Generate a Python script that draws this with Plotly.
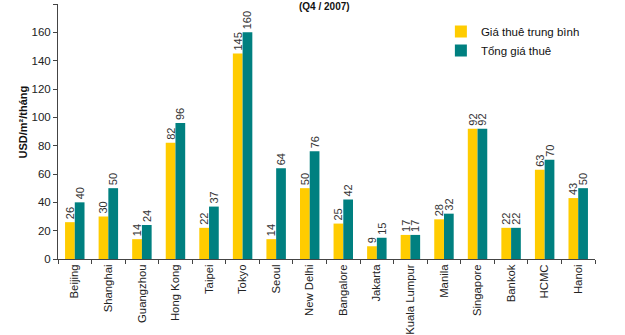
import plotly.graph_objects as go

cities = ["Beijing", "Shanghai", "Guangzhou", "Hong Kong", "Taipei", "Tokyo", "Seoul",
          "New Delhi", "Bangalore", "Jakarta", "Kuala Lumpur", "Manila", "Singapore",
          "Bankok", "HCMC", "Hanoi"]
avg_rent = [26, 30, 14, 82, 22, 145, 14, 50, 25, 9, 17, 28, 92, 22, 63, 43]
total_rent = [40, 50, 24, 96, 37, 160, 64, 76, 42, 15, 17, 32, 92, 22, 70, 50]
y_ticks = [0, 20, 40, 60, 80, 100, 120, 140, 160, 180]

FONT = "Liberation Sans, Arial, sans-serif"

fig = go.Figure()
fig.add_trace(go.Bar(
    x=cities, y=avg_rent, name="Giá thuê trung bình",
    marker=dict(color="#FFCC00", line=dict(width=0)),
    text=avg_rent, textposition="outside", textangle=-90,
    textfont=dict(size=11, color="#333333", family=FONT), cliponaxis=False,
))
fig.add_trace(go.Bar(
    x=cities, y=total_rent, name="Tổng giá thuê",
    marker=dict(color="#008080", line=dict(width=0)),
    text=total_rent, textposition="outside", textangle=-90,
    textfont=dict(size=11, color="#333333", family=FONT), cliponaxis=False,
))

fig.update_layout(
    width=625, height=335,
    margin=dict(l=58, r=30, t=4, b=76, autoexpand=False),
    paper_bgcolor="white", plot_bgcolor="white",
    barmode="group", bargap=0.42, bargroupgap=0,
    uniformtext=dict(minsize=11, mode="show"),
    font=dict(family=FONT, size=11, color="#222222"),
    showlegend=True,
    legend=dict(x=0.713, y=0.949, xanchor="left", yanchor="top",
                bgcolor="rgba(0,0,0,0)", font=dict(size=11.5, color="#111111"),
                tracegroupgap=0, itemwidth=30),
    xaxis=dict(
        showline=True, linecolor="#444444", linewidth=1,
        ticks="outside", ticklen=4, tickcolor="#444444", tickson="boundaries",
        tickangle=-90, tickfont=dict(size=11.3, color="#222222"),
        automargin=False, showgrid=False,
    ),
    yaxis=dict(
        range=[0, 180], tickvals=y_ticks,
        showline=True, linecolor="#444444", linewidth=1,
        ticks="outside", ticklen=4, tickcolor="#444444",
        tickfont=dict(size=11.5, color="#222222"),
        showgrid=False, zeroline=False, automargin=False,
    ),
    annotations=[
        dict(text="<b>USD/m²/tháng</b>", xref="paper", yref="paper",
             x=0, y=0.5, xshift=-44, yshift=9, textangle=-90, showarrow=False,
             font=dict(size=11, color="#111111")),
        dict(text="<b>(Q4 / 2007)</b>", xref="paper", yref="paper",
             x=(324 - 58) / 537, y=1, yshift=-10, xanchor="center", yanchor="bottom",
             showarrow=False, font=dict(size=10, color="#111111")),
    ],
)

fig.write_html("out.html")
